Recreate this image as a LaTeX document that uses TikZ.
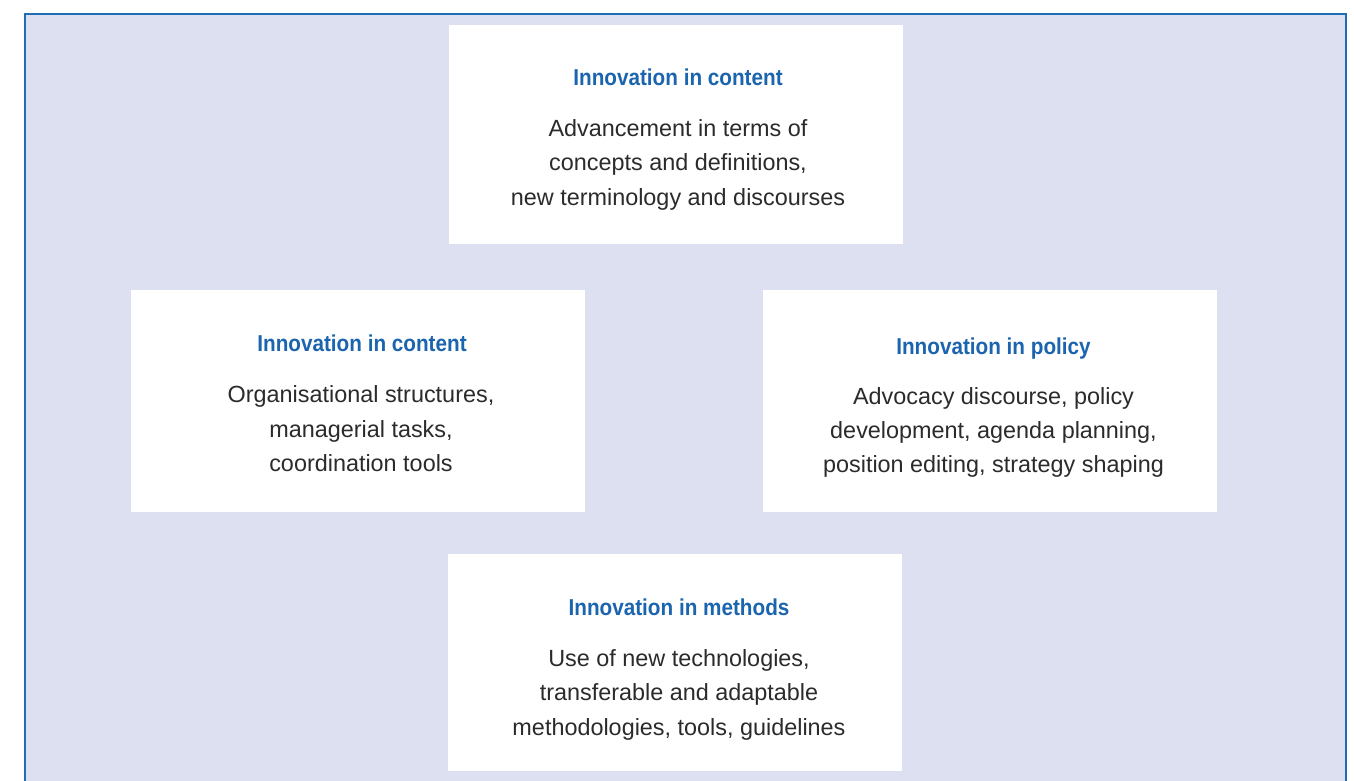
\documentclass[tikz,border=0pt]{standalone}
\usepackage{fontspec}
\setmainfont{Liberation Sans}
\newfontfamily\titlefont[FakeStretch=0.9]{Liberation Sans Bold}
\definecolor{bgpanel}{HTML}{DDE0F1}
\definecolor{frameblue}{HTML}{1F6DB5}
\definecolor{titleblue}{HTML}{1B64AE}
\definecolor{bodygray}{HTML}{2B2B2B}
\tikzset{
  card/.style={fill=white, draw=none, rectangle, inner sep=0pt},
  cardtitle/.style={anchor=base, inner sep=0pt, text=titleblue, font=\titlefont\fontsize{23}{28}\selectfont},
  cardbody/.style={anchor=base, inner sep=0pt, align=center, text=bodygray, font=\fontsize{23.4}{34.4}\selectfont},
}
\begin{document}
\begin{tikzpicture}[x=1pt,y=-1pt]
\useasboundingbox (0,0) rectangle (1354,781);
\clip (0,0) rectangle (1354,781);
\fill[white] (0,0) rectangle (1354,781);
\draw[frameblue, line width=2.5pt, fill=bgpanel] (25,14) rectangle (1346,820);

% boxes
\node[card, minimum width=454pt, minimum height=219pt] (b1) at (676,134.5) {};
\node[card, minimum width=454pt, minimum height=222pt] (b2) at (357.5,401) {};
\node[card, minimum width=454pt, minimum height=222pt] (b3) at (989.5,401) {};
\node[card, minimum width=454pt, minimum height=217pt] (b4) at (674.5,662.5) {};

% box 1 (body anchored at the baseline of its last line)
\node[cardtitle] (t1) at (678,86) {Innovation in content};
\node[cardbody] (d1) at (678,205.3) {Advancement in terms of\\concepts and definitions,\\new terminology and discourses};

% box 2
\node[cardtitle] (t2) at (362,351.5) {Innovation in content};
\node[cardbody] (d2) at (361,471.6) {Organisational structures,\\managerial tasks,\\coordination tools};

% box 3
\node[cardtitle] (t3) at (993.5,354) {Innovation in policy};
\node[cardbody] (d3) at (993.5,472.8) {Advocacy discourse, policy\\development, agenda planning,\\position editing, strategy shaping};

% box 4
\node[cardtitle] (t4) at (679,615) {Innovation in methods};
\node[cardbody] (d4) at (679,735.3) {Use of new technologies,\\transferable and adaptable\\methodologies, tools, guidelines};
\end{tikzpicture}
\end{document}
